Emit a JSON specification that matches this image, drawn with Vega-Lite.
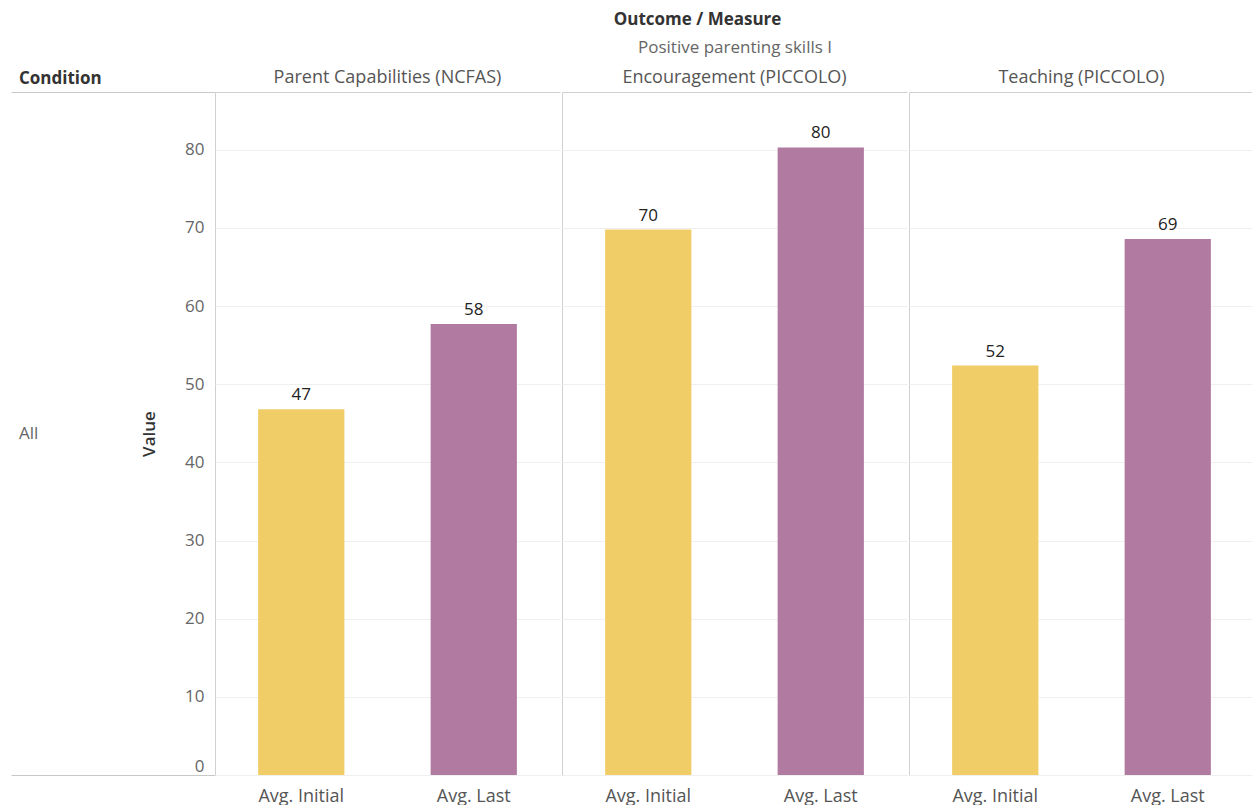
{
  "$schema": "https://vega.github.io/schema/vega-lite/v6.json",
  "padding": {"left": 10, "top": 11, "right": 0, "bottom": 0},
  "background": "white",
  "bounds": "flush",
  "spacing": 0,
  "data": {"values": [
    {"Condition": "All", "Measure": "Parent Capabilities (NCFAS)", "Stat": "Avg. Initial", "Value": 46.8},
    {"Condition": "All", "Measure": "Parent Capabilities (NCFAS)", "Stat": "Avg. Last", "Value": 57.7},
    {"Condition": "All", "Measure": "Encouragement (PICCOLO)", "Stat": "Avg. Initial", "Value": 69.8},
    {"Condition": "All", "Measure": "Encouragement (PICCOLO)", "Stat": "Avg. Last", "Value": 80.3},
    {"Condition": "All", "Measure": "Teaching (PICCOLO)", "Stat": "Avg. Initial", "Value": 52.4},
    {"Condition": "All", "Measure": "Teaching (PICCOLO)", "Stat": "Avg. Last", "Value": 68.6}
  ]},
  "hconcat": [
    {
      "width": 204,
      "height": 683,
      "title": {"text": "Condition", "anchor": "start", "dx": 8, "offset": 4, "fontSize": 17, "fontWeight": "bold", "color": "#333333", "font": "Open Sans"},
      "view": {"stroke": "#c8c8c8", "strokeWidth": 1, "strokeDash": [204, 683, 204, 683]},
      "transform": [{"aggregate": [{"op": "count", "as": "n"}], "groupby": ["Condition"]}],
      "mark": {"type": "text", "align": "left", "dx": -94, "fontSize": 17, "font": "Open Sans", "color": "#666666"},
      "encoding": {"text": {"field": "Condition", "type": "nominal"}}
    },
    {
      "title": {"text": "Outcome / Measure", "fontSize": 17, "fontWeight": "bold", "color": "#333333", "font": "Open Sans", "anchor": "middle", "offset": 10},
      "facet": {
        "column": {"field": "Measure", "type": "nominal", "sort": ["Parent Capabilities (NCFAS)", "Encouragement (PICCOLO)", "Teaching (PICCOLO)"], "header": {"title": "Positive parenting skills I", "titleAnchor": "middle", "titleFontSize": 17, "titleFontWeight": "normal", "titleColor": "#666666", "titleFont": "Open Sans", "titlePadding": 2, "labelOrient": "top", "labelFontSize": 18, "labelColor": "#555555", "labelFont": "Open Sans", "labelPadding": 4}}
      },
      "spacing": 0,
      "spec": {
        "width": 345,
        "height": 683,
        "view": {"stroke": "#d0d0d0", "strokeWidth": 1, "strokeDash": [345, 683, 1028, 0]},
        "layer": [
          {"mark": {"type": "bar"},
           "encoding": {
             "x": {"field": "Stat", "type": "nominal", "sort": ["Avg. Initial", "Avg. Last"], "scale": {"paddingInner": 0.5, "paddingOuter": 0.25}, "axis": {"title": null, "labelAngle": 0, "labelFontSize": 18, "labelColor": "#555555", "labelFont": "Open Sans", "ticks": false, "domain": false, "labelPadding": 11}},
             "y": {"field": "Value", "type": "quantitative", "scale": {"domain": [0, 87.4], "nice": false}, "axis": {"title": "Value", "titleFontSize": 17, "titleFontWeight": 600, "titleColor": "#333333", "titleFont": "Open Sans", "values": [0, 10, 20, 30, 40, 50, 60, 70, 80], "labelFontSize": 17, "labelColor": "#666666", "labelFont": "Open Sans", "labelBaseline": {"condition": {"test": "datum.value === 0", "value": "bottom"}, "value": "middle"}, "ticks": false, "domain": false, "gridColor": "#efefef", "labelPadding": 10, "titlePadding": 26}},
             "color": {"field": "Stat", "type": "nominal", "scale": {"domain": ["Avg. Initial", "Avg. Last"], "range": ["#F0CD66", "#B07AA1"]}, "legend": null}
           }},
          {"mark": {"type": "text", "dy": -14, "fontSize": 17, "font": "Open Sans", "color": "#222222"},
           "encoding": {
             "x": {"field": "Stat", "type": "nominal", "sort": ["Avg. Initial", "Avg. Last"]},
             "y": {"field": "Value", "type": "quantitative"},
             "text": {"field": "Value", "type": "quantitative", "format": ".0f"}
           }}
        ]
      }
    }
  ]
}
